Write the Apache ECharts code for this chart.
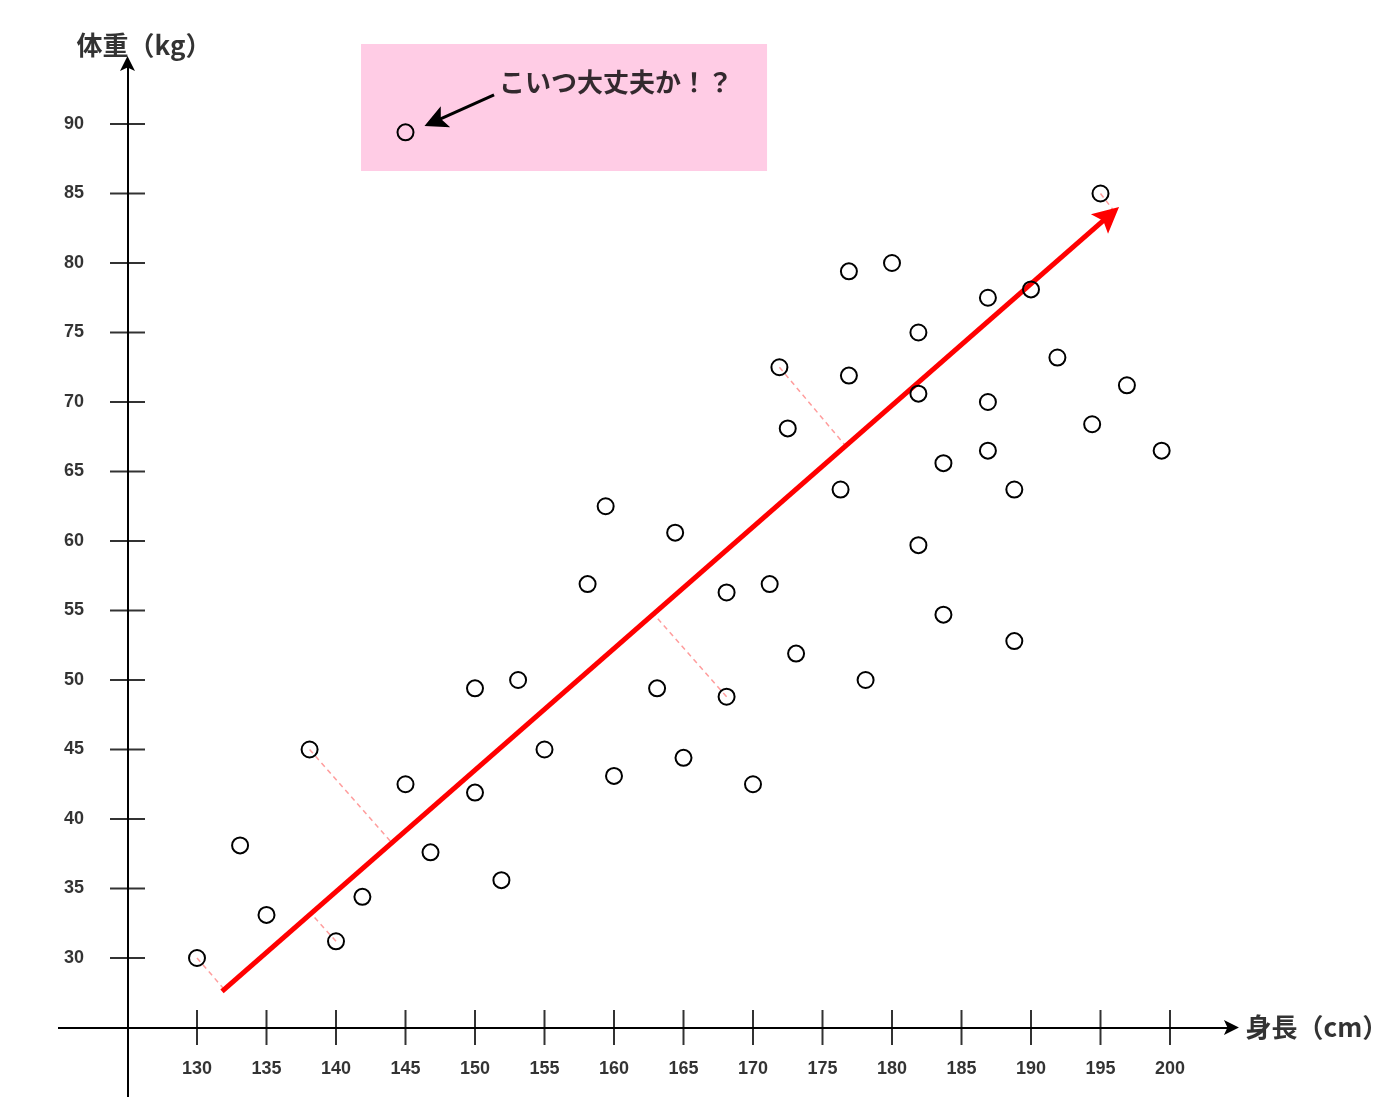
<!DOCTYPE html>
<html><head><meta charset="utf-8">
<script src="https://cdn.jsdelivr.net/npm/echarts@6/dist/echarts.min.js"></script>
<style>html,body{margin:0;padding:0;background:#fff}#c{width:1400px;height:1118px}</style>
</head><body><div id="c"></div>
<script>
// ---- data ----
const heights = [130,133.1,135,138.1,140,141.9,145,146.8,150,150,151.9,153.1,155,158.1,159.4,160,163.1,164.4,165,168.1,168.1,170,171.2,171.9,172.5,173.1,176.3,176.9,176.9,178.1,180,181.9,181.9,181.9,183.7,183.7,186.9,186.9,186.9,188.8,188.8,190,191.9,194.4,195,196.9,199.4,145];
const weights = [30,38.1,33.1,45,31.2,34.4,42.5,37.6,49.4,41.9,35.6,50,45,56.9,62.5,43.1,49.4,60.6,44.4,56.3,48.8,42.5,56.9,72.5,68.1,51.9,63.7,79.4,71.9,50,80,75,70.6,59.7,65.6,54.7,77.5,70,66.5,63.7,52.8,78.1,73.2,68.4,85,71.2,66.5,89.4];
const xTickValues = [130,135,140,145,150,155,160,165,170,175,180,185,190,195,200];
const yTickValues = [30,35,40,45,50,55,60,65,70,75,80,85,90];
const regressionStart = [131.8, 27.6];
const regressionEnd = [195.63, 83.42];
const residualFrom = [[130,30],[138.1,45],[140,31.2],[168.1,48.8],[171.9,72.5],[195,85]];
const residualTo = [[132.0,27.7],[144.0,38.3],[138.2,33.2],[162.9,54.7],[176.7,66.8],[196.0,83.7]];
const xAxisRange = [120, 204.42];
const yAxisRange = [20, 94.35];
const origin = [125, 25];
const xTitle = '身長（cm）';
const yTitle = '体重（kg）';
const noteText = 'こいつ大丈夫か！？';
const noteBox = [[141.8, 95.76], [171.01, 86.62]];
const noteArrow = [[151.37, 92.09], [147.12, 90.19]];
const noteTextAnchor = [151.73, 93.04];

const CJK = "'Noto Sans CJK JP', sans-serif";
const NUM = "'Liberation Sans', Arial, sans-serif";
const axisArrow = 'path://M0,0 L7,15 L0,11.5 L-7,15 Z';
const bigArrow = 'path://M0,0 L13,26 L0,21 L-13,26 Z';
const noteArrowHead = 'path://M0,0 L11.5,18 L0,14 L-11.5,18 Z';

const chart = echarts.init(document.getElementById('c'), null, {renderer: 'canvas'});
chart.setOption({
  animation: false,
  backgroundColor: '#ffffff',
  grid: {left: 30.2, top: 12.8, width: 1278.8, height: 1098.1, containLabel: false},
  xAxis: {type: 'value', min: 118, max: 210, show: false, splitLine: {show: false}},
  yAxis: {type: 'value', min: 19, max: 98, show: false, splitLine: {show: false}},
  series: [
    { // annotation box
      type: 'scatter', data: [], z: 1, silent: true, clip: false,
      markArea: {silent: true, itemStyle: {color: '#ffcce5', opacity: 1},
        data: [[{coord: noteBox[0]}, {coord: noteBox[1]}]]}
    },
    { // residual guides
      type: 'lines', coordinateSystem: 'cartesian2d', z: 2, silent: true,
      data: residualFrom.map((p, i) => ({coords: [p, residualTo[i]]})),
      symbol: ['none', 'none'],
      lineStyle: {color: '#ff9d9d', width: 1.5, type: [5, 4], opacity: 1}
    },
    { // regression line
      type: 'lines', coordinateSystem: 'cartesian2d', z: 3, silent: true,
      data: [{coords: [regressionStart, regressionEnd]}],
      symbol: ['none', bigArrow], symbolSize: [0, 26], symbolKeepAspect: true,
      itemStyle: {color: '#ff0000'},
      lineStyle: {color: '#ff0000', width: 5, opacity: 1}
    },
    { // axes
      type: 'lines', coordinateSystem: 'cartesian2d', z: 4, silent: true,
      data: [
        {coords: [[xAxisRange[0], origin[1]], [xAxisRange[1], origin[1]]]},
        {coords: [[origin[0], yAxisRange[0]], [origin[0], yAxisRange[1]]]}
      ],
      symbol: ['none', axisArrow], symbolSize: [0, 15], symbolKeepAspect: true,
      itemStyle: {color: '#000'},
      lineStyle: {color: '#000', width: 2, opacity: 1}
    },
    { // x ticks
      type: 'scatter', z: 5, silent: true,
      data: xTickValues.map(v => [v, origin[1]]),
      symbol: 'rect', symbolSize: [2, 35], itemStyle: {color: '#000'},
      label: {show: true, position: 'bottom', distance: 15, formatter: p => String(p.value[0]),
        fontFamily: NUM, fontWeight: 'bold', fontSize: 18, color: '#000'}
    },
    { // y ticks
      type: 'scatter', z: 5, silent: true,
      data: yTickValues.map(v => [origin[0], v]),
      symbol: 'rect', symbolSize: [35, 2], itemStyle: {color: '#000'},
      label: {show: true, position: 'left', distance: 26, formatter: p => String(p.value[1]),
        fontFamily: NUM, fontWeight: 'bold', fontSize: 18, color: '#000'}
    },
    { // points
      type: 'scatter', z: 10, silent: true,
      data: heights.map((h, i) => [h, weights[i]]),
      symbol: 'circle', symbolSize: 16,
      itemStyle: {color: 'rgba(0,0,0,0)', borderColor: '#000', borderWidth: 2, opacity: 1}
    },
    { // annotation arrow
      type: 'lines', coordinateSystem: 'cartesian2d', z: 11, silent: true,
      data: [{coords: noteArrow}],
      symbol: ['none', noteArrowHead], symbolSize: [0, 23], symbolKeepAspect: true,
      itemStyle: {color: '#000'},
      lineStyle: {color: '#000', width: 3, opacity: 1}
    },
    { // texts
      type: 'scatter', z: 12, silent: true, clip: false,
      symbolSize: 0, itemStyle: {color: 'rgba(0,0,0,0)'},
      label: {show: true, fontFamily: CJK, fontWeight: 'bold', fontSize: 26, color: '#000'},
      data: [
        {value: [xAxisRange[1], origin[1]], label: {formatter: xTitle, position: 'right', distance: 14}},
        {value: [origin[0], yAxisRange[1]], label: {formatter: yTitle, position: 'inside', align: 'left', verticalAlign: 'middle', offset: [-51, -18]}},
        {value: noteTextAnchor, label: {formatter: noteText, position: 'right', distance: 0}}
      ]
    }
  ]
});
</script></body></html>
